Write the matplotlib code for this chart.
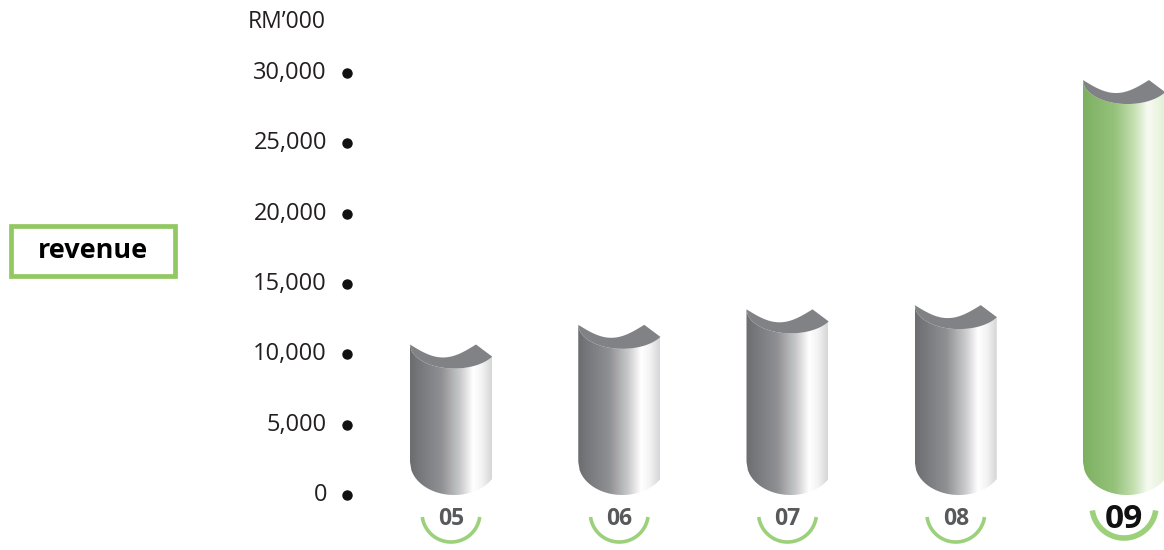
import numpy as np
import matplotlib
matplotlib.use("Agg")
import matplotlib.pyplot as plt
from matplotlib.colors import LinearSegmentedColormap
from matplotlib.patches import Polygon, Rectangle

plt.rcParams['font.family'] = ['Open Sans', 'DejaVu Sans']

# revenue, RM'000
years = ['05', '06', '07', '08', '09']
revenue = [10700, 12100, 13200, 13500, 29500]
tick_values = [0, 5000, 10000, 15000, 20000, 25000, 30000]
tick_labels = ['0', '5,000', '10,000', '15,000', '20,000', '25,000', '30,000']

W, H = 1164, 550
PX_STEP = 168.25          # pixels between bars
PX_PER_K = 14.067         # pixels per 1,000
VAL_PER_PX = 1000 / PX_PER_K
X0_PX, Y0_PX = 451, 495   # pixel position of first bar centre / value 0

grey_cmap = LinearSegmentedColormap.from_list('grey_bar', [
    (0.0, '#6c6d70'), (0.38, '#8f9093'), (0.62, '#cbcbcd'),
    (0.77, '#ffffff'), (0.88, '#f3f3f3'), (1.0, '#d6d6d8')])
green_cmap = LinearSegmentedColormap.from_list('green_bar', [
    (0.0, '#7db061'), (0.38, '#95c27b'), (0.62, '#c6e0b2'),
    (0.78, '#f7fbf2'), (1.0, '#e2f0d6')])
ARC_GREEN = '#9dd07a'


def px_dx(p):
    return p / PX_STEP


def px_dy(p):
    # pixels downward -> value units
    return -p * VAL_PER_PX


fig = plt.figure(figsize=(W / 100, H / 100), dpi=100)
ax = fig.add_axes([0, 0, 1, 1])
ax.set_xlim(-X0_PX / PX_STEP, (W - X0_PX) / PX_STEP)
ax.set_ylim(-(H - Y0_PX) * VAL_PER_PX, 30000 + 73 * VAL_PER_PX)
ax.axis('off')

bar_w = 82
a_front = bar_w / 1.857
b_top, b_bot = 24, 33

for i, (yr, val) in enumerate(zip(years, revenue)):
    L = i - px_dx(bar_w / 2)
    R = i + px_dx(bar_w / 2)
    # front arc shape (pixels), used for the top edge and the rounded bottom
    xs = np.linspace(0, bar_w, 60)
    t = np.clip((xs - a_front) / a_front, -1, 1)
    depth = np.sqrt(1 - t ** 2)
    xd = L + px_dx(xs)

    top_front = val + px_dy(b_top * depth)
    bot_left = px_dy(-b_bot)           # bottom arc lowest point sits on 0
    bottom = bot_left + px_dy(b_bot * depth)

    body = np.vstack([
        np.column_stack([xd, bottom]),
        np.column_stack([xd[::-1], top_front[::-1]]),
    ])
    cmap = green_cmap if i == len(years) - 1 else grey_cmap
    patch = Polygon(body, closed=True, facecolor='none', edgecolor='none')
    ax.add_patch(patch)
    grad = np.linspace(0, 1, 256).reshape(1, -1)
    im = ax.imshow(grad, cmap=cmap, aspect='auto', interpolation='bilinear',
                   extent=(L, R, bottom.min(), val), zorder=2)
    im.set_clip_path(patch)

    # concave top face
    back_w = 66
    bx = np.linspace(0, back_w, 40)
    back = val + px_dy(13 * np.sin(np.pi * bx / back_w))
    top_face = np.vstack([
        np.column_stack([L + px_dx(bx), back]),
        [[R, val + px_dy(12)]],
        np.column_stack([xd[::-1], top_front[::-1]]),
    ])
    ax.add_patch(Polygon(top_face, closed=True, facecolor='#818285',
                         edgecolor='none', zorder=3))

    # year label with arc underneath
    last = i == len(years) - 1
    ax.text(i, px_dy(519 - Y0_PX), yr, ha='center', va='center',
            fontsize=24 if last else 16.5, fontweight='bold',
            color='#111111' if last else '#58595b')
    r = 32 if last else 29
    cy = 506 if last else 513
    th = np.radians(np.linspace(8, 172, 80))
    ax.plot(i + px_dx(r * np.cos(th)), px_dy(cy - Y0_PX + r * np.sin(th)),
            color=ARC_GREEN, lw=4 if last else 2.6, solid_capstyle='butt')

# value axis: labels with dots
for v, lab in zip(tick_values, tick_labels):
    ax.text(px_dx(327 - X0_PX), v, lab, ha='right', va='center',
            fontsize=17, color='#231f20')
    ax.plot(px_dx(347 - X0_PX), v, 'o', color='#111111', markersize=6.5)

ax.text(px_dx(326 - X0_PX), px_dy(22 - Y0_PX), 'RM\u2019000', ha='right',
        va='center', fontsize=16.5, color='#231f20')

# "revenue" tag on the left
fig.add_artist(Rectangle((11 / W, (H - 276) / H), 164 / W, 50 / H,
                         transform=fig.transFigure, facecolor='white',
                         edgecolor='#92c862', lw=3.4))
fig.text(93 / W, (H - 251) / H, 'revenue', ha='center', va='center',
         fontsize=19.5, fontweight='bold', color='black')

fig.savefig('out.png', dpi=100)
